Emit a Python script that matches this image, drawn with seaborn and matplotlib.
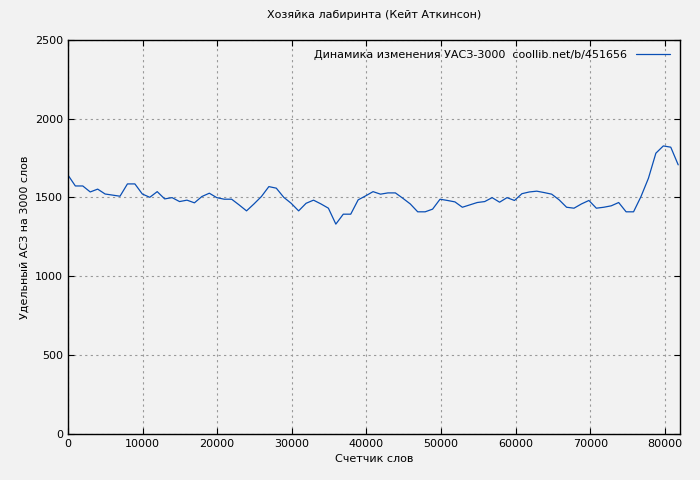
import numpy as np
import pandas as pd
import matplotlib
matplotlib.use("Agg")
import matplotlib.pyplot as plt
import seaborn as sns

values = [
    1643, 1573, 1573, 1535, 1553, 1522, 1515, 1508, 1586, 1586,
    1522, 1501, 1537, 1491, 1499, 1474, 1483, 1466, 1506, 1527,
    1499, 1489, 1489, 1453, 1415, 1459, 1506, 1569, 1559, 1501,
    1463, 1415, 1463, 1483, 1459, 1432, 1331, 1394, 1394, 1485,
    1510, 1537, 1521, 1529, 1529, 1495, 1459, 1409, 1409, 1426,
    1489, 1481, 1472, 1438, 1453, 1468, 1474, 1499, 1470, 1499,
    1481, 1524, 1535, 1540, 1531, 1521, 1485, 1438, 1432, 1459,
    1481, 1432, 1438, 1447, 1468, 1409, 1409, 1506, 1622, 1781,
    1827, 1819, 1707,
]
# points are evenly spaced, last one near 81800 words
words = np.arange(len(values)) * 81800 / (len(values) - 1)

df = pd.DataFrame({"words": words, "asz": values})

sns.set_style("ticks")
plt.rcParams["font.family"] = ["DejaVu Sans"]
plt.rcParams["font.size"] = 8
plt.rcParams["text.color"] = "black"
plt.rcParams["axes.labelcolor"] = "black"
plt.rcParams["xtick.color"] = "black"
plt.rcParams["ytick.color"] = "black"

fig = plt.figure(figsize=(7, 4.8), dpi=100, facecolor="#f2f2f2")
ax = fig.add_axes([0.097, 0.096, 0.874, 0.821])
ax.set_facecolor("#f2f2f2")

sns.lineplot(data=df, x="words", y="asz", ax=ax, color="#0a4fb5", linewidth=0.9,
             label="Динамика изменения УАСЗ-3000  coollib.net/b/451656")

ax.set_xlim(0, 82000)
ax.set_ylim(0, 2500)
ax.set_xticks(range(0, 80001, 10000))
ax.set_yticks(range(0, 2501, 500))
ax.grid(True, color="#999999", linestyle=(0, (2, 3)), linewidth=0.8)
for s in ax.spines.values():
    s.set_color("black")
    s.set_linewidth(1)
ax.tick_params(direction="in", length=4, labelsize=8, top=True, right=True)
ax.set_xlabel("Счетчик слов", fontsize=8)
ax.set_ylabel("Удельный АСЗ на 3000 слов", fontsize=8)
ax.set_title("Хозяйка лабиринта (Кейт Аткинсон)", fontsize=8, pad=16)
ax.legend(loc="upper right", frameon=False, fontsize=8, markerfirst=False,
          handlelength=3)

fig.savefig("out.png", dpi=100, facecolor=fig.get_facecolor())
